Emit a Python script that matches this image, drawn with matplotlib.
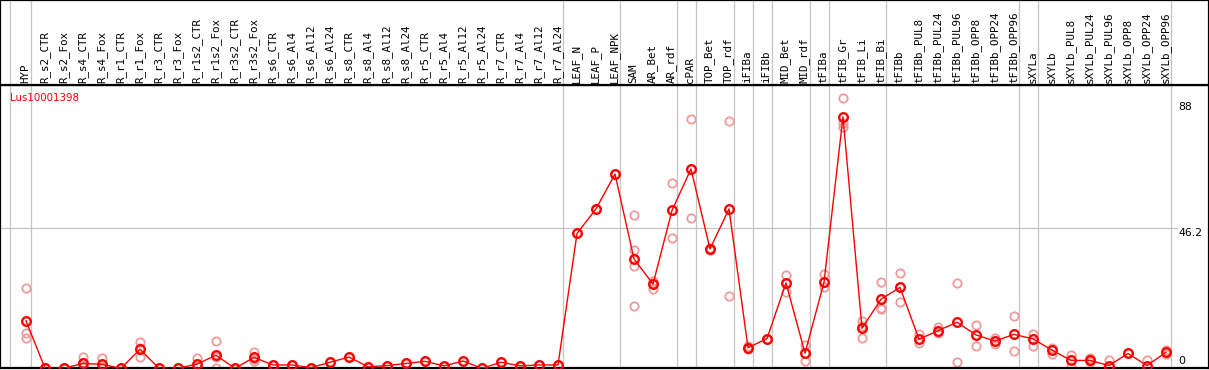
import numpy as np
import matplotlib
matplotlib.use("Agg")
import matplotlib.pyplot as plt

# sample names (header labels)
samples = [
    "HYP", "R_s2_CTR", "R_s2_Fox", "R_s4_CTR", "R_s4_Fox", "R_r1_CTR", "R_r1_Fox",
    "R_r3_CTR", "R_r3_Fox", "R_r1s2_CTR", "R_r1s2_Fox", "R_r3s2_CTR", "R_r3s2_Fox",
    "R_s6_CTR", "R_s6_Al4", "R_s6_Al12", "R_s6_Al24", "R_s8_CTR", "R_s8_Al4",
    "R_s8_Al12", "R_s8_Al24", "R_r5_CTR", "R_r5_Al4", "R_r5_Al12", "R_r5_Al24",
    "R_r7_CTR", "R_r7_Al4", "R_r7_Al12", "R_r7_Al24", "LEAF_N", "LEAF_P", "LEAF_NPK",
    "SAM", "AR_Bet", "AR_rdf", "cPAR", "TOP_Bet", "TOP_rdf", "iFIBa", "iFIBb",
    "MID_Bet", "MID_rdf", "tFIBa", "tFIB_Gr", "tFIB_Li", "tFIB_Bi", "tFIBb",
    "tFIBb_PUL8", "tFIBb_PUL24", "tFIBb_PUL96", "tFIBb_OPP8", "tFIBb_OPP24",
    "tFIBb_OPP96", "sXYLa", "sXYLb", "sXYLb_PUL8", "sXYLb_PUL24", "sXYLb_PUL96",
    "sXYLb_OPP8", "sXYLb_OPP24", "sXYLb_OPP96",
]

# mean expression per sample
means = [
    15.7, 0, 0, 1.6, 1.3, 0, 6.3, 0, 0, 1.4, 4.3, 0, 3.6, 1.1, 1.1, 0.2, 2.0,
    3.7, 0.5, 0.9, 1.6, 2.3, 0.8, 2.4, 0, 2.0, 0.8, 1.1, 1.1, 44.5, 52.6, 64.1,
    36.1, 27.8, 52.1, 65.8, 39.4, 52.6, 6.8, 9.8, 28.2, 5.0, 28.4, 83.0, 13.2,
    22.8, 26.7, 9.6, 12.4, 15.2, 11.0, 9.0, 11.2, 9.7, 6.0, 2.6, 2.6, 0.9, 4.9,
    0.9, 5.3,
]

# individual replicates per sample
reps = [
    [26.4, 11.6, 9.9], [0, 0], [0, 0], [3.7, 0.5, 0.6], [3.5, 0.3, 0.2], [0],
    [8.6, 3.6, 6.7], [0], [0], [3.4, 0.8], [9.0, 0.2, 3.7], [0], [5.4, 2.3, 3.1],
    [1.1], [1.1], [0.2], [2.0], [3.7], [0.5], [0.9], [1.6], [2.3], [0.8], [2.4],
    [0], [2.0], [0.8], [1.1], [1.1], [44.5], [52.6], [64.1],
    [50.5, 38.9, 33.7, 20.5], [28.9, 26.2, 28.3], [61.1, 42.9], [82.2, 49.5],
    [39.6, 39.2], [81.5, 23.8], [7.2, 6.4], [9.8], [30.8, 25.1], [7.7, 2.4],
    [31.1, 26.7], [89.1, 80.9, 79.7], [15.6, 13.9, 9.9], [28.4, 20.0, 19.6],
    [31.4, 21.8], [11.2, 8.3], [13.7, 11.5], [28.0, 2.0], [14.3, 7.3],
    [9.9, 7.9], [17.3, 5.7], [11.3, 7.3], [6.8, 4.8], [4.4, 0.5], [3.5, 2.0],
    [2.6], [4.9], [2.6], [6.0, 4.6],
]

# last sample index of each tissue group
group_ends = [0, 28, 31, 34, 35, 37, 38, 39, 41, 42, 45, 52, 53, 60]
yticks = [0, 46.2, 88]
gene = "Lus10001398"

W, H = 1209, 370
fig = plt.figure(figsize=(W / 100, H / 100), dpi=100)

def add_px_axes(x0, y0, x1, y1):
    return fig.add_axes([x0 / W, 1 - y1 / H, (x1 - x0) / W, (y1 - y0) / H])

x_lo, x_hi = (0 - 26) / 19, (W - 26) / 19
ax = add_px_axes(0, 85, W, 368.3)
hd = add_px_axes(0, 0, W, 85)

idx = np.arange(len(samples))
grid_c = "#c4c4c4"

for a in (ax, hd):
    a.set_xlim(x_lo, x_hi)
    a.set_xticks([])
    a.set_yticks([])
    for s in a.spines.values():
        s.set_color("black")
        s.set_linewidth(1.6)
    a.axvline(-0.84, color=grid_c, lw=0.9, zorder=0)
    for g in group_ends:
        a.axvline(g + 0.24, color=grid_c, lw=0.9, zorder=0)

ax.set_ylim(0, 93.5)
hd.set_ylim(0, 85)

ax.axhline(yticks[1], xmax=(1177 / W), color=grid_c, lw=0.9, zorder=0)

# replicates
rx = [i for i, r in enumerate(reps) for _ in r]
ry = [v for r in reps for v in r]
ax.plot(rx, ry, ls="none", marker="o", ms=6, mfc="none", mec="#f09a9a",
        mew=1.3, zorder=2)

# means
ax.plot(idx, means, color="red", lw=1.0, marker="o", ms=6.2, mfc="none",
        mec="red", mew=1.7, zorder=3)

# gene name, top left of plot area
ax.text(10 / W * (x_hi - x_lo) + x_lo, 93.5 - 13 / 3.03, gene, color="red",
        fontsize=7.4, va="center", ha="left", family="DejaVu Sans")

xl = 1178 / W * (x_hi - x_lo) + x_lo
ax.text(xl, yticks[2], "88", fontsize=7.8, va="top", ha="left")
ax.text(xl, yticks[1], "46.2", fontsize=7.8, va="top", ha="left")
ax.text(xl, yticks[0] + 0.7, "0", fontsize=7.8, va="bottom", ha="left")

for i, s in enumerate(samples):
    hd.text(i - 0.03, 2, s, rotation=90, ha="center", va="bottom",
            fontsize=7.8, family="DejaVu Sans Mono")

fig.savefig("out.png", dpi=100)
